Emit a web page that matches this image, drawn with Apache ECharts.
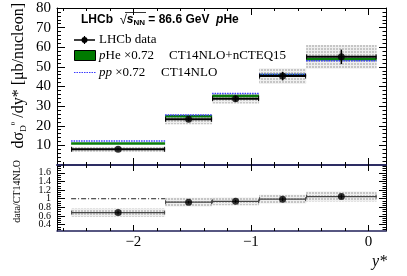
<!DOCTYPE html>
<html><head><meta charset="utf-8">
<script src="https://cdn.jsdelivr.net/npm/echarts@6/dist/echarts.min.js"></script>
<style>html,body{margin:0;padding:0;background:#fff}#c{width:407px;height:276px}</style>
</head><body><div id="c"></div>
<script>
// ---- data ----
const binLo = [-2.53, -1.73, -1.33, -0.93, -0.53];
const binHi = [-1.73, -1.33, -0.93, -0.53, 0.07];
const xsec = [8.0, 23.3, 33.8, 45.3, 55.1];
const xsecStat = [0.4, 1.0, 1.5, 2.2, 3.7];
const xsecSys = [1.3, 2.5, 2.5, 4.0, 6.0];
const pHeTheory = [11.0, 24.8, 35.2, 45.8, 53.9];
const ppTheory = [12.2, 25.5, 36.4, 46.3, 53.1];
const ratio = [0.68, 0.92, 0.94, 0.99, 1.05];
const ratioStat = [0.03, 0.03, 0.03, 0.04, 0.05];
const ratioSys = [0.095, 0.10, 0.09, 0.10, 0.115];
const xTickLabels = [-2, -1, 0];
const yTopTickLabels = [10, 20, 30, 40, 50, 60, 70, 80];
const yRatioTickLabels = [0.4, 0.6, 0.8, 1.0, 1.2, 1.4, 1.6];

const X_MIN = -2.65, X_MAX = 0.15;
const TOP_MIN = 0, TOP_MAX = 80;
const R_MIN = 0.254, R_MAX = 1.78;
const SERIF = 'Liberation Serif';
const SANS = 'Liberation Sans';
const NAVY = '#20205a';

function range(a, b, s) { const r = []; for (let v = a; v <= b + 1e-9; v += s) r.push(Math.round(v * 1000) / 1000); return r; }
const xMinor = range(-2.6, 0.0, 0.2).filter(v => Math.abs(v - Math.round(v)) > 1e-6);
const yTopMinor = range(2, 78, 2).filter(v => v % 10 !== 0);
const yRatioMinor = range(0.3, 1.75, 0.05).filter(v => Math.abs(v * 5 - Math.round(v * 5)) > 1e-6);

const centers = binLo.map((l, i) => (l + binHi[i]) / 2);

// grey dotted pattern
const pc = document.createElement('canvas'); pc.width = 3; pc.height = 3;
const pctx = pc.getContext('2d');
pctx.fillStyle = '#efefef'; pctx.fillRect(0, 0, 3, 3);
pctx.fillStyle = '#c6c6c6'; pctx.fillRect(0, 0, 2, 2);
const greyFill = { image: pc, repeat: 'repeat' };

function xAxes(g, labels) {
  const base = { type: 'value', gridIndex: g, min: X_MIN, max: X_MAX, splitLine: { show: false } };
  const fmt = v => (v < 0 ? '\u2212' + Math.abs(v) : String(v));
  return [
    Object.assign({}, base, { position: 'bottom',
      axisLine: { show: true, onZero: false, lineStyle: { color: NAVY, width: 1.5 } },
      axisTick: { show: true, inside: true, length: g === 0 ? 7 : 6, customValues: xTickLabels, lineStyle: { color: '#000' } },
      axisLabel: { show: labels, customValues: xTickLabels, formatter: fmt, fontFamily: SERIF, fontSize: 15, color: '#000', margin: 4 } }),
    Object.assign({}, base, { position: 'bottom',
      axisLine: { show: false, onZero: false }, axisTick: { show: true, inside: true, length: 3, customValues: xMinor, lineStyle: { color: '#000' } },
      axisLabel: { show: false } }),
    Object.assign({}, base, { position: 'top',
      axisLine: { show: true, onZero: false, lineStyle: { color: g === 0 ? '#000' : NAVY, width: g === 0 ? 1 : 1.5 } },
      axisTick: { show: true, inside: true, length: g === 0 ? 7 : 6, customValues: xTickLabels, lineStyle: { color: '#000' } },
      axisLabel: { show: false } }),
    Object.assign({}, base, { position: 'top',
      axisLine: { show: false, onZero: false }, axisTick: { show: true, inside: true, length: 3, customValues: xMinor, lineStyle: { color: '#000' } },
      axisLabel: { show: false } })
  ];
}
function yAxes(g, min, max, major, minor, labelSets, fontSize, fmt) {
  const base = { type: 'value', gridIndex: g, min: min, max: max, splitLine: { show: false } };
  const axes = [
    Object.assign({}, base, { position: 'left',
      axisLine: { show: true, onZero: false, lineStyle: { color: '#000', width: 1 } },
      axisTick: { show: true, inside: true, length: 8, customValues: major, lineStyle: { color: '#000' } },
      axisLabel: { show: false } }),
    Object.assign({}, base, { position: 'left',
      axisLine: { show: false, onZero: false }, axisTick: { show: true, inside: true, length: 4, customValues: minor, lineStyle: { color: '#000' } },
      axisLabel: { show: false } }),
    Object.assign({}, base, { position: 'right',
      axisLine: { show: true, onZero: false, lineStyle: { color: '#000', width: 1 } },
      axisTick: { show: true, inside: true, length: 7, customValues: major, lineStyle: { color: '#000' } },
      axisLabel: { show: false } }),
    Object.assign({}, base, { position: 'right',
      axisLine: { show: false, onZero: false }, axisTick: { show: true, inside: true, length: 3.5, customValues: minor, lineStyle: { color: '#000' } },
      axisLabel: { show: false } })
  ];
  labelSets.forEach(vals => {
    axes.push(Object.assign({}, base, { position: 'left',
      axisLine: { show: false, onZero: false }, axisTick: { show: false },
      axisLabel: { show: true, customValues: vals, formatter: fmt, fontFamily: SERIF, fontSize: fontSize, color: '#000', margin: 6, hideOverlap: false, showMinLabel: true, showMaxLabel: true } }));
  });
  return axes;
}

function boxSeries(xi, yi, vals, errs, z) {
  return { type: 'custom', xAxisIndex: xi, yAxisIndex: yi, z: z, silent: true, clip: true,
    data: binLo.map((l, i) => [l, binHi[i], vals[i] - errs[i], vals[i] + errs[i]]),
    encode: { x: [0, 1], y: [2, 3] },
    renderItem: function (params, api) {
      const p1 = api.coord([api.value(0), api.value(3)]);
      const p2 = api.coord([api.value(1), api.value(2)]);
      return { type: 'rect', shape: { x: p1[0], y: p1[1], width: p2[0] - p1[0], height: p2[1] - p1[1] }, style: { fill: greyFill } };
    } };
}
function levelSeries(xi, yi, vals, style, endTicks, z) {
  return { type: 'custom', xAxisIndex: xi, yAxisIndex: yi, z: z, silent: true, clip: true,
    data: binLo.map((l, i) => [l, binHi[i], vals[i]]),
    encode: { x: [0, 1], y: 2 },
    renderItem: function (params, api) {
      const a = api.coord([api.value(0), api.value(2)]);
      const b = api.coord([api.value(1), api.value(2)]);
      const ch = [{ type: 'line', shape: { x1: a[0], y1: a[1], x2: b[0], y2: b[1] }, style: style }];
      if (endTicks) {
        ch.push({ type: 'line', shape: { x1: a[0] + 0.5, y1: a[1] - endTicks, x2: a[0] + 0.5, y2: a[1] + endTicks }, style: { stroke: style.stroke, lineWidth: 1 } });
        ch.push({ type: 'line', shape: { x1: b[0] - 0.5, y1: b[1] - endTicks, x2: b[0] - 0.5, y2: b[1] + endTicks }, style: { stroke: style.stroke, lineWidth: 1 } });
      }
      return { type: 'group', children: ch };
    } };
}
function errSeries(xi, yi, vals, errs, width, z) {
  return { type: 'custom', xAxisIndex: xi, yAxisIndex: yi, z: z, silent: true, clip: true,
    data: centers.map((c, i) => [c, vals[i] - errs[i], vals[i] + errs[i]]),
    encode: { x: 0, y: [1, 2] },
    renderItem: function (params, api) {
      const a = api.coord([api.value(0), api.value(1)]);
      const b = api.coord([api.value(0), api.value(2)]);
      return { type: 'line', shape: { x1: a[0], y1: a[1], x2: b[0], y2: b[1] }, style: { stroke: '#000', lineWidth: width } };
    } };
}

const topY = yAxes(0, TOP_MIN, TOP_MAX, yTopTickLabels, yTopMinor, [yTopTickLabels], 15, v => String(v));
const ratioSetA = yRatioTickLabels.filter((v, i) => i % 2 === 0);
const ratioSetB = yRatioTickLabels.filter((v, i) => i % 2 === 1);
const botY = yAxes(1, R_MIN, R_MAX, yRatioTickLabels, yRatioMinor, [ratioSetA, ratioSetB], 10, v => (Math.abs(v - 1) < 1e-6 ? '1' : String(v)));
const RY = topY.length; // first y-axis index of ratio panel

const chart = echarts.init(document.getElementById('c'), null, { renderer: 'canvas' });
const option = {
  animation: false,
  backgroundColor: '#fff',
  grid: [
    { left: 57, top: 8, width: 329, height: 157 },
    { left: 57, top: 165, width: 329, height: 66 }
  ],
  xAxis: xAxes(0, false).concat(xAxes(1, true)),
  yAxis: topY.concat(botY),
  series: [
    boxSeries(0, 0, xsec, xsecSys, 1),
    levelSeries(0, 0, pHeTheory, { stroke: '#0a7d0a', lineWidth: 2.5 }, 0, 2),
    levelSeries(0, 0, ppTheory, { stroke: '#3a3aff', lineWidth: 1.5, lineDash: [1.5, 1] }, 0, 3),
    levelSeries(0, 0, xsec, { stroke: '#000', lineWidth: 2 }, 2.5, 4),
    errSeries(0, 0, xsec, xsecStat, 1.5, 5),
    { type: 'scatter', xAxisIndex: 0, yAxisIndex: 0, z: 6, silent: true, symbol: 'circle', symbolSize: 7,
      itemStyle: { color: '#000' }, data: centers.map((c, i) => [c, xsec[i]]) },

    { type: 'line', xAxisIndex: 4, yAxisIndex: RY, z: 1, silent: true, symbol: 'none',
      lineStyle: { color: '#222', width: 1, type: [5, 2, 1, 2] },
      data: [[binLo[0], 1], [binHi[binHi.length - 1], 1]] },
    boxSeries(4, RY, ratio, ratioSys, 2),
    levelSeries(4, RY, ratio, { stroke: '#444', lineWidth: 1.2 }, 2, 3),
    errSeries(4, RY, ratio, ratioStat, 1.2, 4),
    { type: 'scatter', xAxisIndex: 4, yAxisIndex: RY, z: 5, silent: true, symbol: 'circle', symbolSize: 7,
      itemStyle: { color: '#000' }, data: centers.map((c, i) => [c, ratio[i]]) }
  ],
  graphic: [
    { type: 'text', x: 81, y: 20, z: 100, style: {
      text: '{b|LHCb}  {r|\u221A}{bi|s}{sub|NN}{b| = 86.6 GeV  }{bi|p}{b|He}',
      verticalAlign: 'middle',
      rich: {
        b: { fontFamily: SANS, fontWeight: 'bold', fontSize: 12, lineHeight: 14, fill: '#000' },
        bi: { fontFamily: SANS, fontWeight: 'bold', fontStyle: 'italic', fontSize: 12, lineHeight: 14, fill: '#000' },
        r: { fontFamily: SANS, fontSize: 13, lineHeight: 14, fill: '#000' },
        sub: { fontFamily: SANS, fontWeight: 'bold', fontSize: 8, lineHeight: 14, verticalAlign: 'bottom', fill: '#000' }
      } } },
    { type: 'line', z: 100, shape: { x1: 125, y1: 12.5, x2: 146, y2: 12.5 }, style: { stroke: '#000', lineWidth: 0.8 } },
    // legend: data
    { type: 'line', z: 100, shape: { x1: 74, y1: 40, x2: 95, y2: 40 }, style: { stroke: '#000', lineWidth: 1.5 } },
    { type: 'line', z: 100, shape: { x1: 84.5, y1: 36, x2: 84.5, y2: 44 }, style: { stroke: '#000', lineWidth: 1.2 } },
    { type: 'circle', z: 101, shape: { cx: 84.5, cy: 40, r: 3 }, style: { fill: '#000' } },
    { type: 'text', x: 99, y: 40, z: 100, style: { text: 'LHCb data', font: '13px "Liberation Serif"', fill: '#000', verticalAlign: 'middle' } },
    // legend: pHe
    { type: 'rect', z: 100, shape: { x: 74.5, y: 50.5, width: 21, height: 10 }, style: { fill: '#007a00', stroke: '#000', lineWidth: 1 } },
    { type: 'text', x: 99, y: 56, z: 100, style: {
      text: '{i|p}{n|He \u00D70.72}', verticalAlign: 'middle',
      rich: { i: { fontFamily: SERIF, fontStyle: 'italic', fontSize: 13, fill: '#000' }, n: { fontFamily: SERIF, fontSize: 13, fill: '#000' } } } },
    { type: 'text', x: 169, y: 56, z: 100, style: { text: 'CT14NLO+nCTEQ15', font: '13px "Liberation Serif"', fill: '#000', verticalAlign: 'middle' } },
    // legend: pp
    { type: 'line', z: 100, shape: { x1: 74, y1: 72.5, x2: 96, y2: 72.5 }, style: { stroke: '#3a3aff', lineWidth: 1.2, lineDash: [1.5, 1] } },
    { type: 'text', x: 99, y: 73, z: 100, style: {
      text: '{i|pp}{n| \u00D70.72}', verticalAlign: 'middle',
      rich: { i: { fontFamily: SERIF, fontStyle: 'italic', fontSize: 13, fill: '#000' }, n: { fontFamily: SERIF, fontSize: 13, fill: '#000' } } } },
    { type: 'text', x: 161, y: 73, z: 100, style: { text: 'CT14NLO', font: '13px "Liberation Serif"', fill: '#000', verticalAlign: 'middle' } },
    // y titles
    { type: 'text', x: 19, y: 3, z: 100, rotation: Math.PI / 2, style: {
      text: '{n|d\u03C3}{s|D}{p|0}{n| /dy* [\u03BCb/nucleon]}', align: 'right', verticalAlign: 'middle',
      rich: {
        n: { fontFamily: SERIF, fontSize: 16, lineHeight: 18, fill: '#000' },
        s: { fontFamily: SERIF, fontSize: 9, lineHeight: 18, verticalAlign: 'bottom', fill: '#000' },
        p: { fontFamily: SERIF, fontSize: 7, lineHeight: 18, verticalAlign: 'top', fill: '#000' }
      } } },
    { type: 'text', x: 17, y: 160, z: 100, rotation: Math.PI / 2, style: {
      text: 'data/CT14NLO', font: '10px "Liberation Serif"', fill: '#000', align: 'right', verticalAlign: 'middle' } },
    // x title
    { type: 'text', x: 387, y: 262, z: 100, style: { text: 'y*', font: 'italic 16px "Liberation Serif"', fill: '#000', align: 'right', verticalAlign: 'middle' } }
  ]
};
chart.setOption(option);
</script>
</body></html>
